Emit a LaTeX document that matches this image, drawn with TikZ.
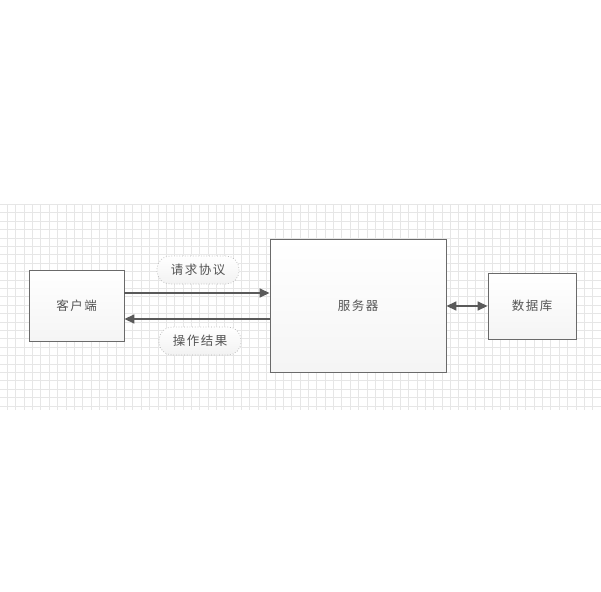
\documentclass[tikz,border=0pt]{standalone}
\usepackage{fontspec}
\newfontfamily\cjk[LetterSpace=12]{Noto Sans CJK SC}
\usetikzlibrary{arrows.meta,shadows}
\definecolor{gridc}{HTML}{E6E6E6}
\definecolor{edge}{HTML}{6A6A6A}
\definecolor{txt}{HTML}{555555}
\definecolor{arr}{HTML}{5A5A5A}
\tikzset{
  box/.style={draw=edge, line width=0.9pt, top color=white, bottom color=gray!8, font=\cjk\fontsize{12.5}{14}\selectfont, text=txt, inner sep=0pt,
    drop shadow={shadow xshift=1pt, shadow yshift=-1pt, opacity=0.15}},
  pill/.style={draw=gray!60, dotted, line width=0.7pt, rounded corners=13pt, top color=white, bottom color=gray!10, font=\cjk\fontsize{12.5}{14}\selectfont, text=txt, minimum width=82pt, minimum height=28pt, inner sep=0pt},
  conn/.style={draw=arr, line width=1.6pt, -{Triangle[length=10pt,width=9pt]}},
  dconn/.style={draw=arr, line width=1.6pt, {Triangle[length=10pt,width=9pt]}-{Triangle[length=10pt,width=9pt]}}
}
\begin{document}
\begin{tikzpicture}[x=1pt,y=-1pt]
\useasboundingbox (0,0) rectangle (601,591);
\fill[white] (0,0) rectangle (601,591);
\foreach \i in {0,...,71} {\draw[gridc, line width=0.5pt] ({7.3+8.36*\i},204) -- ({7.3+8.36*\i},410);}
\foreach \j in {0,...,24} {\draw[gridc, line width=0.5pt] (0,{204.3+8.4*\j}) -- (601,{204.3+8.4*\j});}
\node[box, minimum width=95pt, minimum height=71pt] (client) at (76.5,305.5) {客户端};
\node[box, minimum width=176pt, minimum height=133pt] (server) at (358,305.5) {服务器};
\node[box, minimum width=88pt, minimum height=66pt] (db) at (532,306) {数据库};
\node[pill] (req) at (198,270) {请求协议};
\node[pill] (res) at (200,341) {操作结果};
\coordinate (c1) at (client.east |- 0,293);
\coordinate (s1) at (server.west |- 0,293);
\coordinate (c2) at (client.east |- 0,319);
\coordinate (s2) at (server.west |- 0,319);
\draw[conn] (c1) -- (s1);
\draw[conn] (s2) -- (c2);
\draw[dconn] (server.east |- db.west) -- (db.west);
\end{tikzpicture}
\end{document}
